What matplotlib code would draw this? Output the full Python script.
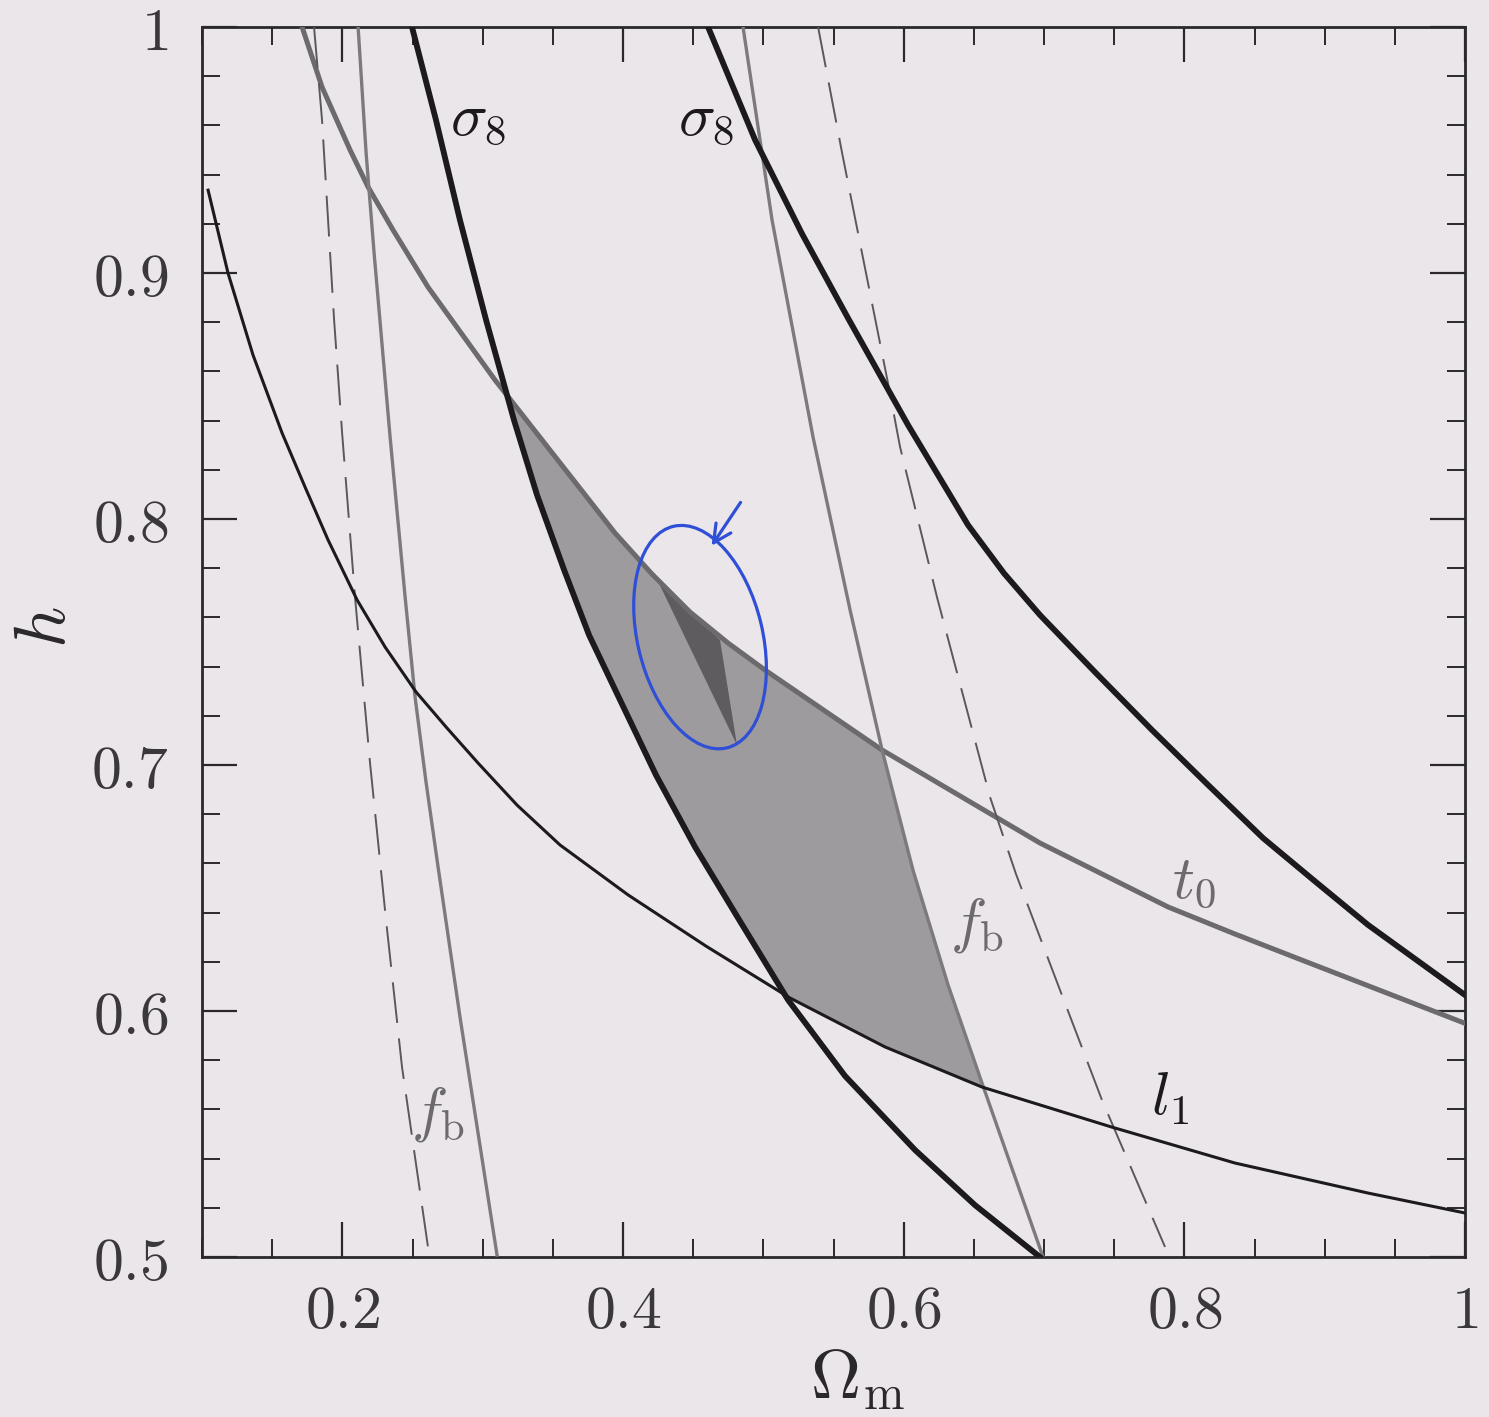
import numpy as np
import matplotlib
matplotlib.use("Agg")
import matplotlib.pyplot as plt
from matplotlib.patches import Ellipse, Polygon
from matplotlib.ticker import MultipleLocator, FuncFormatter

plt.rcParams["mathtext.fontset"] = "cm"
plt.rcParams["font.family"] = "DejaVu Serif"

# ---------------------------------------------------------------------------
# constraint curves in the (Omega_m, h) plane
# ---------------------------------------------------------------------------
l1_om = [0.1043, 0.1185, 0.1363, 0.1570, 0.1734, 0.1898, 0.2105, 0.2304, 0.2525, 0.2746,
         0.2967, 0.3245, 0.3551, 0.4036, 0.4591, 0.5190, 0.5867, 0.6558, 0.7484, 0.8361,
         0.9309, 1.0]
l1_h  = [0.9337, 0.9000, 0.8667, 0.8350, 0.8130, 0.7915, 0.7671, 0.7480, 0.7297, 0.7150,
         0.7008, 0.6837, 0.6675, 0.6472, 0.6264, 0.6053, 0.5854, 0.5691, 0.5528, 0.5382,
         0.5260, 0.5179]

t0_om = [0.1713, 0.1855, 0.2055, 0.2183, 0.2361, 0.2610, 0.3088, 0.3943, 0.4207, 0.4477,
         0.4748, 0.5012, 0.5846, 0.6971, 0.7884, 0.8361, 0.8838, 1.0]
t0_h  = [1.0, 0.9756, 0.9500, 0.9350, 0.9175, 0.8943, 0.8565, 0.7943, 0.7776, 0.7622,
         0.7496, 0.7386, 0.7061, 0.6683, 0.6423, 0.6313, 0.6207, 0.595]

s8l_om = [0.2496, 0.2667, 0.2838, 0.3024, 0.3223, 0.3387, 0.3580, 0.3758, 0.3979, 0.4235,
          0.4513, 0.4841, 0.5176, 0.5582, 0.6081, 0.6508, 0.6971]
s8l_h  = [1.0, 0.9622, 0.9215, 0.8809, 0.8402, 0.8098, 0.7793, 0.7528, 0.7264, 0.6959,
          0.6667, 0.6358, 0.6045, 0.5736, 0.5435, 0.5211, 0.5]

s8r_om = [0.4606, 0.4941, 0.5276, 0.5603, 0.6031, 0.6458, 0.6714, 0.6971, 0.7363, 0.7770,
          0.8169, 0.8561, 0.8938, 0.9309, 1.0]
s8r_h  = [1.0, 0.9541, 0.9159, 0.8817, 0.8382, 0.7976, 0.7780, 0.7610, 0.7378, 0.7142,
          0.6919, 0.6703, 0.6524, 0.6350, 0.6065]

fbl_om = [0.2112, 0.2169, 0.2226, 0.2340, 0.2447, 0.2518, 0.2596, 0.2682, 0.2838, 0.3102]
fbl_h  = [1.0, 0.9488, 0.9081, 0.8333, 0.7683, 0.7276, 0.6931, 0.6585, 0.5976, 0.5008]

fbl_dash_om = [0.1798, 0.1855, 0.1898, 0.1941, 0.1998, 0.2090, 0.2197, 0.2311, 0.2425, 0.2610]
fbl_dash_h  = [1.0, 0.9622, 0.9215, 0.8809, 0.8350, 0.7683, 0.7008, 0.6370, 0.5772, 0.5041]

fbr_om = [0.4855, 0.5062, 0.5354, 0.5618, 0.5846, 0.6066, 0.6316, 0.6558, 0.6993]
fbr_h  = [1.0, 0.9215, 0.8333, 0.7630, 0.7061, 0.6573, 0.6106, 0.5707, 0.5]

fbr_dash_om = [0.5390, 0.5561, 0.5703, 0.5888, 0.5974, 0.6237, 0.6615, 0.6800, 0.7100, 0.7413,
               0.7862]
fbr_dash_h  = [1.0, 0.9488, 0.9081, 0.8553, 0.8293, 0.7683, 0.6870, 0.6557, 0.6106, 0.5638,
               0.5041]

# small dark region inside the hand-drawn circle
wedge_om = [0.4228, 0.4691, 0.4812]
wedge_h  = [0.7772, 0.7508, 0.7081]

BG = "#ebe6ea"
BLACK = "#1c1a1c"
GREY_T0 = "#6c6a6c"
GREY_FB = "#7c7a7c"
BLUE = "#2f4fd6"
AXC = "#2a282a"

fig = plt.figure(figsize=(14.89, 14.17), dpi=100, facecolor=BG)
ax = fig.add_axes([0.1357, 0.1129, 0.8482, 0.8680])
ax.set_facecolor(BG)

# allowed region: below t0 and f_b(right), above sigma8(left) and l1
grid = np.linspace(0.30, 0.72, 800)
upper = np.minimum(np.interp(grid, t0_om, t0_h),
                   np.interp(grid, fbr_om, fbr_h, left=np.inf, right=-np.inf))
lower = np.maximum(np.interp(grid, s8l_om, s8l_h, left=np.inf, right=-np.inf),
                   np.interp(grid, l1_om, l1_h))
ax.fill_between(grid, lower, upper, where=upper > lower, interpolate=True,
                color="#9d9b9d", lw=0, zorder=1)
ax.add_patch(Polygon(np.column_stack([wedge_om, wedge_h]), closed=True,
                     color="#5e5c5e", lw=0, zorder=2))

# curves
ax.plot(l1_om, l1_h, color=BLACK, lw=2.2, zorder=4)
ax.plot(t0_om, t0_h, color=GREY_T0, lw=3.6, zorder=3)
ax.plot(s8l_om, s8l_h, color=BLACK, lw=4.2, zorder=5)
ax.plot(s8r_om, s8r_h, color=BLACK, lw=4.2, zorder=5)
ax.plot(fbl_om, fbl_h, color=GREY_FB, lw=2.4, zorder=3)
ax.plot(fbr_om, fbr_h, color=GREY_FB, lw=2.4, zorder=3)
ax.plot(fbl_dash_om, fbl_dash_h, color="#5a585a", lw=1.4, ls=(0, (21, 8)), zorder=3)
ax.plot(fbr_dash_om, fbr_dash_h, color="#5a585a", lw=1.4, ls=(0, (21, 8)), zorder=3)

# curve labels
lab = dict(fontsize=44, ha="center", va="center", zorder=6)
ax.text(0.297, 0.963, r"$\sigma_8$", color=BLACK, **lab)
ax.text(0.459, 0.963, r"$\sigma_8$", color=BLACK, **lab)
ax.text(0.807, 0.653, r"$t_0$", color=GREY_T0, **lab)
ax.text(0.652, 0.635, r"$f_{\rm b}$", color=GREY_T0, **lab)
ax.text(0.268, 0.558, r"$f_{\rm b}$", color=GREY_T0, **lab)
ax.text(0.790, 0.565, r"$l_1$", color=BLACK, **lab)

# hand-drawn blue circle and arrow
ax.add_patch(Ellipse((0.3943, 0.504), 0.099, 0.185, angle=13, transform=ax.transAxes,
                     fill=False, ec=BLUE, lw=2.3, zorder=7))
ax.annotate("", xy=(0.4022, 0.5764), xytext=(0.4276, 0.6154), xycoords="axes fraction",
            textcoords="axes fraction",
            arrowprops=dict(arrowstyle="->", color=BLUE, lw=2.3, mutation_scale=32),
            zorder=7)

ax.set_xlim(0.1, 1.0)
ax.set_ylim(0.5, 1.0)
ax.xaxis.set_major_locator(MultipleLocator(0.2))
ax.xaxis.set_minor_locator(MultipleLocator(0.05))
ax.yaxis.set_major_locator(MultipleLocator(0.1))
ax.yaxis.set_minor_locator(MultipleLocator(0.02))
fmt = FuncFormatter(lambda v, p: f"${v:g}$")
ax.xaxis.set_major_formatter(fmt)
ax.yaxis.set_major_formatter(fmt)
ax.tick_params(which="both", direction="in", top=True, right=True,
               colors=AXC, labelcolor="#3a383a", labelsize=43)
ax.tick_params(which="major", length=25, width=1.6)
ax.tick_params(which="minor", length=13, width=1.4)
ax.tick_params(axis="x", which="major", pad=18)
ax.tick_params(axis="y", which="major", pad=24)
for s in ax.spines.values():
    s.set_linewidth(2.0)
    s.set_color(AXC)

ax.set_xlabel(r"$\Omega_{\rm m}$", fontsize=50, color=AXC)
ax.set_ylabel(r"$h$", fontsize=52, color=AXC)
ax.xaxis.set_label_coords(0.519, -0.072)
ax.yaxis.set_label_coords(-0.097, 0.512)

fig.savefig("out.png", dpi=100, facecolor=BG)
